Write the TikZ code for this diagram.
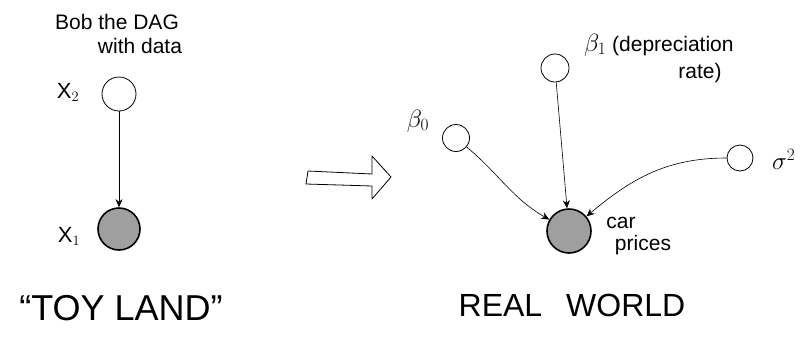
\documentclass[tikz,border=0pt]{standalone}
\usepackage{fontspec}
\setmainfont{Liberation Sans}
\usetikzlibrary{arrows.meta}
\begin{document}
\begin{tikzpicture}[x=1pt,y=-1pt,
  empty/.style={circle,draw,thick,fill=white,inner sep=0pt},
  obs/.style={circle,draw,line width=1.6pt,fill=gray!75,inner sep=0pt},
  edge/.style={-{Stealth[length=8pt,width=7pt]},semithick},
  hand/.style={font=\fontsize{22}{24}\selectfont,inner sep=0pt},
  greek/.style={font=\fontsize{26}{28}\selectfont,inner sep=0pt},
  lbl/.style={font=\fontsize{21}{23}\selectfont,inner sep=0pt},
  big/.style={font=\fontsize{36}{40}\selectfont,inner sep=0pt}]
\useasboundingbox (0,0) rectangle (807,338);
% left DAG
\node[empty,minimum size=34pt] (x2) at (119,94) {};
\node[obs,minimum size=42pt] (x1) at (119,229) {};
\node[hand] (lx2) at (68,92) {X$_2$};
\node[hand] (lx1) at (69,236) {X$_1$};
\node[lbl] (bob) at (117,22) {Bob the DAG};
\node[lbl] (bob2) at (140,46) {with data};
\node[big] (toy) at (121,308) {``TOY LAND''};
\draw[edge] (x2) -- (x1);
% big hollow arrow
\draw[thick,line join=round] (308,171) -- (372,174) -- (372,156) -- (391,177) -- (372,199) -- (372,186) -- (306,184) -- cycle;
% right DAG
\node[empty,minimum size=28pt] (b1) at (555,68) {};
\node[empty,minimum size=27pt] (b0) at (456,138) {};
\node[empty,minimum size=26pt] (s2) at (740,158) {};
\node[obs,minimum size=44pt] (car) at (569,231) {};
\node[greek] (lb0) at (418,121) {$\beta_0$};
\node[lbl,anchor=west] (lb1) at (584,45) {{\fontsize{25}{27}\selectfont$\beta_1$} (depreciation};
\node[lbl] (lb1b) at (700,73) {rate)};
\node[greek,anchor=west] (ls2) at (772,159) {$\sigma^2$};
\node[lbl] (lcar) at (621,223) {car};
\node[lbl] (lcar2) at (643,245) {prices};
\node[font=\fontsize{32}{36}\selectfont,inner sep=0pt] (real) at (572,305) {REAL\hspace{0.75em}WORLD};
\draw[edge] (b1) -- (car);
\draw[edge] (b0) to[out=-40,in=150] (car);
\draw[edge] (s2) to[out=180,in=40] (car);
\end{tikzpicture}
\end{document}
